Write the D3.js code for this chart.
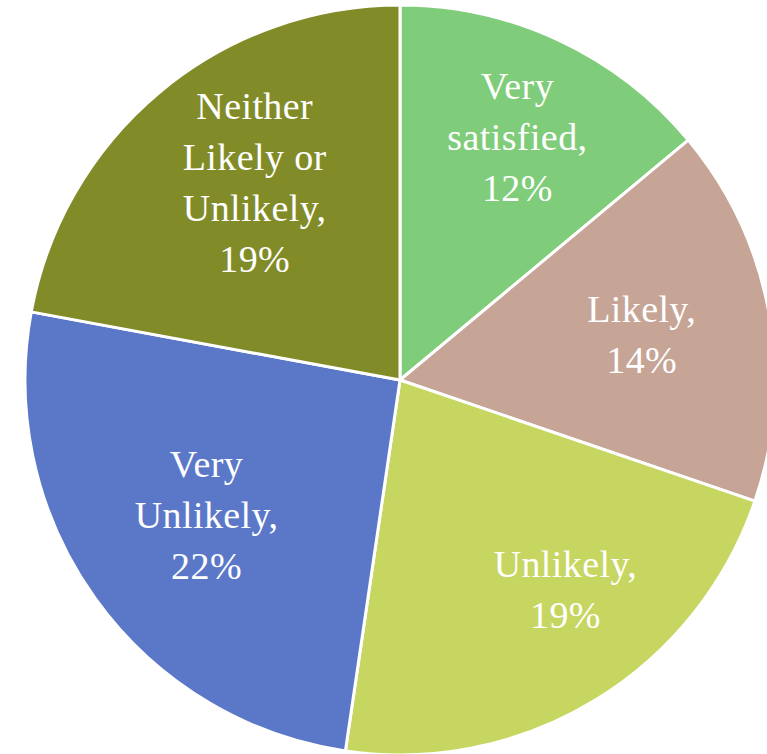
<!DOCTYPE html>
<html>
<head>
<meta charset="utf-8">
<script src="https://cdn.jsdelivr.net/npm/d3@7"></script>
<style>
  html, body { margin: 0; padding: 0; background: #ffffff; overflow: hidden; }
  svg { display: block; }
</style>
</head>
<body>
<svg id="chart" width="767" height="754"></svg>
<script>
// Survey responses
const categories = ["Very satisfied", "Likely", "Unlikely", "Very Unlikely", "Neither Likely or Unlikely"];
const values = [12, 14, 19, 22, 19];
const colors = ["#7fcc7a", "#c6a596", "#c6d660", "#5b78c8", "#818c28"];
// Label lines shown inside each slice
const labelLines = [
  ["Very", "satisfied,", "12%"],
  ["Likely,", "14%"],
  ["Unlikely,", "19%"],
  ["Very", "Unlikely,", "22%"],
  ["Neither", "Likely or", "Unlikely,", "19%"]
];

// Layout
const cx = 400, cy = 380, radius = 375;
const labelRadius = 260;
const labelNudge = [[7, -7], [-14, 3], [30, -12], [18, -15], [21, 3]];
const fontSize = 38, lineHeight = 51;

const svg = d3.select("#chart");
const g = svg.append("g").attr("transform", `translate(${cx},${cy})`);

const pie = d3.pie().sort(null).value(d => d.value);
const arcs = pie(categories.map((c, i) => ({ name: c, value: values[i], idx: i })));

const arc = d3.arc().innerRadius(0).outerRadius(radius);
const labelArc = d3.arc().innerRadius(labelRadius).outerRadius(labelRadius);

g.selectAll("path.slice")
  .data(arcs)
  .join("path")
  .attr("class", "slice")
  .attr("d", arc)
  .attr("fill", d => colors[d.data.idx])
  .attr("stroke", "#ffffff")
  .attr("stroke-width", 3)
  .attr("stroke-linejoin", "round");

const labels = g.selectAll("text.label")
  .data(arcs)
  .join("text")
  .attr("class", "label")
  .attr("text-anchor", "middle")
  .attr("fill", "#ffffff")
  .style("font-family", "'Palatino Linotype', 'Book Antiqua', Palatino, 'Liberation Serif', serif")
  .style("font-size", fontSize + "px")
  .style("letter-spacing", "0.4px")
  .attr("transform", d => {
    const [x, y] = labelArc.centroid(d);
    const [nx, ny] = labelNudge[d.data.idx];
    return `translate(${x + nx},${y + ny})`;
  });

labels.each(function(d) {
  const lines = labelLines[d.data.idx];
  const n = lines.length;
  d3.select(this).selectAll("tspan")
    .data(lines)
    .join("tspan")
    .attr("x", 0)
    .attr("y", (t, i) => (i - (n - 1) / 2) * lineHeight + fontSize * 0.32)
    .text(t => t);
});
</script>
</body>
</html>
